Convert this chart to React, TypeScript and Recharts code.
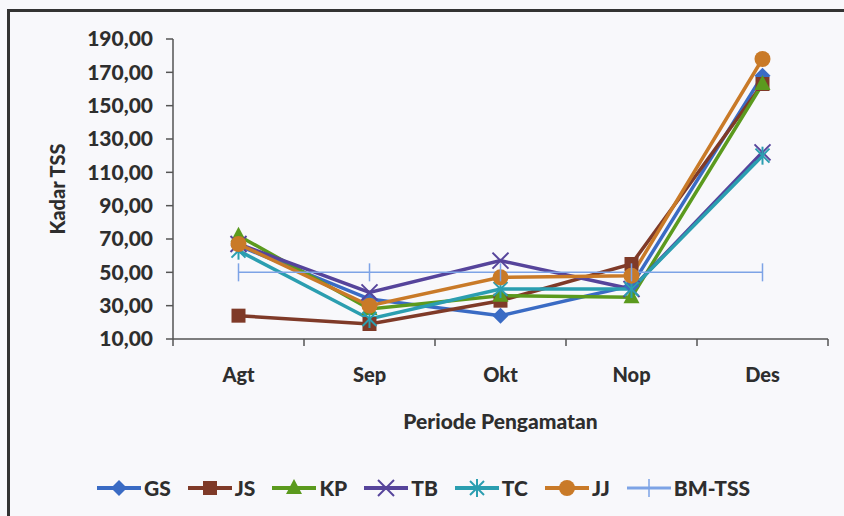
import { LineChart, Line, XAxis, YAxis } from 'recharts';

const categories = ['Agt', 'Sep', 'Okt', 'Nop', 'Des'];
const gs = [66, 34, 24, 42, 168];
const js = [24, 19, 33, 55, 163];
const kp = [72, 28, 36, 35, 163];
const tb = [67, 38, 57, 40, 122];
const tc = [63, 22, 40, 40, 120];
const jj = [67, 30, 47, 48, 178];
const bmTss = [50, 50, 50, 50, 50];
const yTicks = [10, 30, 50, 70, 90, 110, 130, 150, 170, 190];

const data = categories.map((c, i) => ({
  pos: i + 0.5,
  cat: c,
  GS: gs[i],
  JS: js[i],
  KP: kp[i],
  TB: tb[i],
  TC: tc[i],
  JJ: jj[i],
  'BM-TSS': bmTss[i],
}));

const xTicks: number[] = [];
for (let i = 0; i <= categories.length; i++) {
  xTicks.push(i);
  if (i < categories.length) xTicks.push(i + 0.5);
}

const FONT = 'Lato, "Open Sans", sans-serif';
const TEXT = '#2e2e2e';

const series = [
  { key: 'GS', color: '#3A6BC4', shape: 'diamond', width: 3.5 },
  { key: 'JS', color: '#7F3A28', shape: 'square', width: 3.5 },
  { key: 'KP', color: '#5B9A1E', shape: 'triangle', width: 3.5 },
  { key: 'TB', color: '#56449B', shape: 'x', width: 3.5 },
  { key: 'TC', color: '#2B9EB0', shape: 'star', width: 3.5 },
  { key: 'JJ', color: '#C97A28', shape: 'circle', width: 3.5 },
  { key: 'BM-TSS', color: '#7DA3E6', shape: 'plus', width: 1.5 },
];

function Marker({ cx, cy, shape, color }: { cx: number; cy: number; shape: string; color: string }) {
  if (cx == null || cy == null) return null;
  switch (shape) {
    case 'diamond':
      return <polygon points={`${cx},${cy - 8} ${cx + 8},${cy} ${cx},${cy + 8} ${cx - 8},${cy}`} fill={color} />;
    case 'square':
      return <rect x={cx - 7} y={cy - 7} width={14} height={14} fill={color} />;
    case 'triangle':
      return <polygon points={`${cx},${cy - 9} ${cx + 8},${cy + 6} ${cx - 8},${cy + 6}`} fill={color} />;
    case 'x':
      return (
        <g stroke={color} strokeWidth={2}>
          <line x1={cx - 8} y1={cy - 8} x2={cx + 8} y2={cy + 8} />
          <line x1={cx - 8} y1={cy + 8} x2={cx + 8} y2={cy - 8} />
        </g>
      );
    case 'star':
      return (
        <g stroke={color} strokeWidth={2}>
          <line x1={cx - 7} y1={cy - 7} x2={cx + 7} y2={cy + 7} />
          <line x1={cx - 7} y1={cy + 7} x2={cx + 7} y2={cy - 7} />
          <line x1={cx} y1={cy - 9} x2={cx} y2={cy + 9} />
        </g>
      );
    case 'circle':
      return <circle cx={cx} cy={cy} r={8} fill={color} />;
    case 'plus':
      return <line x1={cx} y1={cy - 9} x2={cx} y2={cy + 9} stroke={color} strokeWidth={1.5} />;
    default:
      return null;
  }
}

function XTick(props: any) {
  const { x, y, payload } = props;
  const v = payload.value as number;
  if (Number.isInteger(v)) {
    return <line x1={x} y1={y} x2={x} y2={y + 7} stroke="#555" strokeWidth={1.5} />;
  }
  return (
    <text x={x} y={y + 43} textAnchor="middle" fill={TEXT} fontSize={20} fontWeight={900} fontFamily={FONT}>
      {categories[Math.floor(v)]}
    </text>
  );
}

function LegendIcon({ shape, color }: { shape: string; color: string }) {
  return (
    <svg width={44} height={22} style={{ display: 'block' }}>
      <line x1={0} y1={11} x2={44} y2={11} stroke={color} strokeWidth={shape === 'plus' ? 3 : 4} />
      <Marker cx={22} cy={11} shape={shape} color={color} />
    </svg>
  );
}

export default function App() {
  return (
    <div style={{ position: 'absolute', left: 0, top: 0, width: 844, height: 516, background: '#f8f8fb', overflow: 'hidden' }}>
      <div
        style={{
          position: 'absolute',
          left: 7,
          top: 9,
          width: 900,
          height: 600,
          borderLeft: '3px solid #333',
          borderTop: '3px solid #333',
        }}
      />
      <div style={{ position: 'absolute', left: 0, top: 0 }}>
        <LineChart width={844} height={516} data={data} margin={{ top: 39, right: 16, bottom: 77, left: 40 }}>
          <XAxis
            dataKey="pos"
            type="number"
            domain={[0, categories.length]}
            ticks={xTicks}
            interval={0}
            tickLine={false}
            tickSize={0}
            tickMargin={0}
            tick={<XTick />}
            axisLine={{ stroke: '#555', strokeWidth: 1.5 }}
            height={100}
            label={{
              value: 'Periode Pengamatan',
              position: 'insideBottom',
              offset: 10,
              fill: TEXT,
              fontSize: 21,
              fontWeight: 900,
              fontFamily: FONT,
            }}
          />
          <YAxis
            domain={[10, 190]}
            ticks={yTicks}
            interval={0}
            width={133}
            tickSize={7}
            tickMargin={13}
            tickFormatter={(v: number) => v.toFixed(2).replace('.', ',')}
            tick={{ fill: TEXT, fontSize: 21, fontWeight: 900, fontFamily: FONT }}
            tickLine={{ stroke: '#555', strokeWidth: 1.5 }}
            axisLine={{ stroke: '#555', strokeWidth: 1.5 }}
            label={{
              value: 'Kadar TSS',
              angle: -90,
              position: 'insideLeft',
              offset: 18,
              fill: TEXT,
              fontSize: 20,
              fontWeight: 900,
              fontFamily: FONT,
              style: { textAnchor: 'middle' },
            }}
          />
          {series.map((s) => (
            <Line
              key={s.key}
              dataKey={s.key}
              stroke={s.color}
              strokeWidth={s.width}
              isAnimationActive={false}
              dot={(p: any) => <Marker key={`${s.key}-${p.index}`} cx={p.cx} cy={p.cy} shape={s.shape} color={s.color} />}
              activeDot={false}
            />
          ))}
        </LineChart>
      </div>
      <div
        style={{
          position: 'absolute',
          left: 97,
          top: 475,
          display: 'flex',
          alignItems: 'center',
          fontFamily: FONT,
          fontWeight: 900,
          fontSize: 21,
          color: TEXT,
        }}
      >
        {series.map((s) => (
          <div key={s.key} style={{ display: 'flex', alignItems: 'center', marginRight: 17 }}>
            <LegendIcon shape={s.shape} color={s.color} />
            <span style={{ marginLeft: 3 }}>{s.key}</span>
          </div>
        ))}
      </div>
    </div>
  );
}
